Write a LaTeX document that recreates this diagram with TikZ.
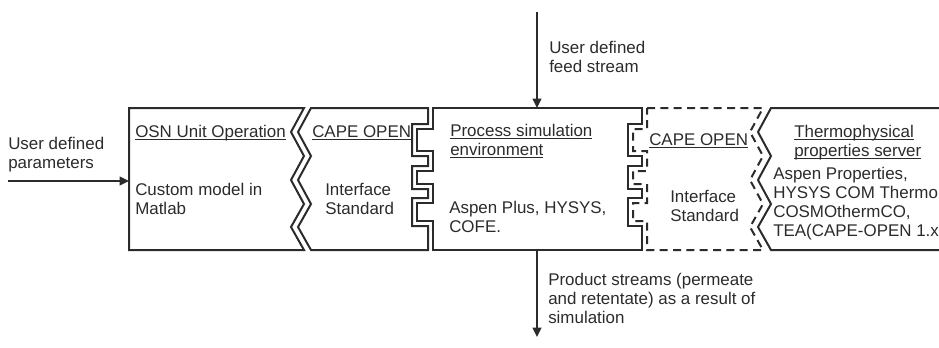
\documentclass[tikz,border=0pt]{standalone}
\usepackage{fontspec}
\setmainfont{Liberation Sans}
\usetikzlibrary{arrows.meta}
\definecolor{ink}{HTML}{2B2B2B}
\newcommand\undl[1]{\setbox0\hbox{#1}\rlap{\rule[-2.4pt]{\wd0}{0.6pt}}\box0}

\tikzset{
  boxline/.style={draw=ink, line width=1.5pt, line join=miter},
  dashbox/.style={boxline, dash pattern=on 6pt off 4pt},
  flow/.style={draw=ink, line width=1.1pt, -{Triangle[length=7pt,width=6.5pt]}},
  lbl/.style={inner sep=0pt, anchor=base west, align=left, text=ink,
    font=\fontsize{12.7}{14.25}\selectfont}
}

\begin{document}
\begin{tikzpicture}[x=0.75pt, y=-0.75pt]
    \useasboundingbox (0,0) rectangle (939,347);

    % OSN unit operation
    \draw[boxline] (304,108) -- (129,108) -- (129,250) -- (304,250) -- (291,227) -- (304,204)
        -- (291,180) -- (304,156) -- (291,132) -- cycle;
    % CAPE OPEN interface
    \draw[boxline] (311,108) -- (428,108) -- (428,124) -- (412,124) -- (412,156) -- (428,156)
        -- (428,166) -- (412,166) -- (412,189) -- (428,189) -- (428,198) -- (412,198)
        -- (412,226) -- (428,226) -- (428,250) -- (311,250) -- (298,227) -- (311,204)
        -- (298,180) -- (311,156) -- (298,132) -- cycle;
    % process simulation environment
    \draw[boxline] (433,108) -- (642,108) -- (642,124) -- (628,124) -- (628,156) -- (642,156)
        -- (642,166) -- (628,166) -- (628,189) -- (642,189) -- (642,198) -- (628,198)
        -- (628,226) -- (642,226) -- (642,250) -- (433,250) -- (433,221) -- (417,221)
        -- (417,203) -- (433,203) -- (433,184) -- (417,184) -- (417,171) -- (433,171)
        -- (433,151) -- (417,151) -- (417,129) -- (433,129) -- cycle;
    % second CAPE OPEN interface
    \draw[dashbox] (647,108) -- (763,108) -- (750,132) -- (763,156) -- (750,180) -- (763,204)
        -- (750,227) -- (763,250) -- (647,250) -- (647,221) -- (633,221) -- (633,203)
        -- (647,203) -- (647,184) -- (633,184) -- (633,171) -- (647,171) -- (647,151)
        -- (633,151) -- (633,129) -- (647,129) -- cycle;
    % properties server
    \draw[boxline] (946,108) -- (771,108) -- (758,132) -- (771,156) -- (758,180) -- (771,204)
        -- (758,227) -- (771,250) -- (946,250);

    % texts (multi-line nodes sit on their last baseline)
    \node[lbl] (osnhead) at (135,137) {\undl{OSN Unit Operation}};
    \node[lbl] (osnbody) at (135,214) {Custom model in\\Matlab};
    \node[lbl] (cohead) at (312,137) {\undl{CAPE OPEN}};
    \node[lbl] (cobody) at (325,214) {Interface\\Standard};
    \node[lbl] (simhead) at (450,155) {\undl{Process simulation}\\\undl{environment}};
    \node[lbl] (simbody) at (449,232) {Aspen Plus, HYSYS,\\COFE.};
    \node[lbl] (cotwohead) at (649,145) {\undl{CAPE OPEN}};
    \node[lbl] (cotwobody) at (670,221) {Interface\\Standard};
    \node[lbl] (thermhead) at (794,156) {\undl{Thermophysical}\\\undl{properties server}};
    \node[lbl] (thermbody) at (773,236) {Aspen Properties,\\HYSYS COM Thermo\\COSMOthermCO,\\TEA(CAPE-OPEN 1.x};

    \node[lbl] (parlbl) at (8,168) {User defined\\parameters};
    \node[lbl] (feedlbl) at (549,72) {User defined\\feed stream};
    \node[lbl] (prodlbl) at (548,323) {Product streams (permeate\\and retentate) as a result of\\simulation};

    \coordinate (parin) at (8,181);
    \coordinate (osnw) at (129,181);
    \coordinate (feedin) at (537,12);
    \coordinate (simtop) at (537,108);
    \coordinate (simbot) at (537,250);
    \coordinate (prodout) at (537,337);

    \draw[flow] (parin) -- (osnw);
    \draw[flow] (feedin) -- (simtop);
    \draw[flow] (simbot) -- (prodout);
\end{tikzpicture}
\end{document}
